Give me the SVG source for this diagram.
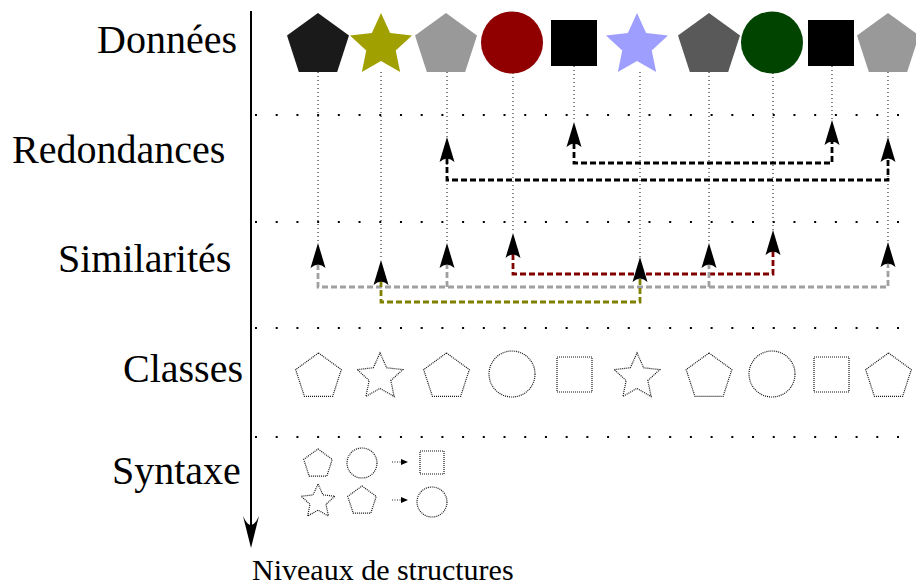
<svg xmlns="http://www.w3.org/2000/svg" xmlns:xlink="http://www.w3.org/1999/xlink" width="916" height="586" viewBox="0 0 916 586">
<style>
.lbl{font-family:"Liberation Serif","Times New Roman",serif;font-size:40px;fill:#000}
.sep{fill:none;stroke:#000;stroke-width:2;stroke-dasharray:2 18.71}
.vdot{fill:none;stroke:#222;stroke-width:1.1;stroke-dasharray:1 3}
.cls{fill:none;stroke:#111;stroke-width:1.2;stroke-dasharray:1 1}
.dash{fill:none;stroke-width:2.8;stroke-dasharray:6 3;marker-end:url(#ah)}
.both{marker-start:url(#ah)}
</style>
<defs>
<marker id="ah" viewBox="-6 -9 30 18" refX="0" refY="0" markerWidth="30" markerHeight="18" orient="auto-start-reverse" markerUnits="userSpaceOnUse">
<path d="M21,0 L-4,-7.5 Q3,0 -4,7.5 Z" fill="#000"/>
</marker>
<path id="pentL" d="M0,-32.6 L31,-10.07 L19.16,26.37 L-19.16,26.37 L-31,-10.07 Z"/>
<path id="starL" d="M0,-32.6 L9.11,-12.54 L31,-10.07 L14.74,4.79 L19.16,26.37 L0,15.5 L-19.16,26.37 L-14.74,4.79 L-31,-10.07 L-9.11,-12.54 Z"/>
<path id="pentM" d="M0,-24 L22.83,-7.42 L14.11,19.42 L-14.11,19.42 L-22.83,-7.42 Z"/>
<path id="starM" d="M0,-24 L6.7,-9.22 L22.83,-7.42 L10.84,3.52 L14.11,19.42 L0,11.4 L-14.11,19.42 L-10.84,3.52 L-22.83,-7.42 L-6.7,-9.22 Z"/>
<path id="pentS" d="M0,-15 L14.27,-4.64 L8.82,12.14 L-8.82,12.14 L-14.27,-4.64 Z"/>
<path id="starS" d="M0,-17.7 L4.94,-6.8 L16.83,-5.47 L7.99,2.6 L10.4,14.32 L0,8.4 L-10.4,14.32 L-7.99,2.6 L-16.83,-5.47 L-4.94,-6.8 Z"/>
</defs>
<rect width="916" height="586" fill="#fff"/>

<g id="labels">
<text class="lbl" x="97" y="53">Données</text>
<text class="lbl" x="12" y="163">Redondances</text>
<text class="lbl" x="58" y="272">Similarités</text>
<text class="lbl" x="123" y="382">Classes</text>
<text class="lbl" x="112" y="484">Syntaxe</text>
<text x="252" y="580" style="font-family:'Liberation Serif','Times New Roman',serif;font-size:30px;fill:#000">Niveaux de structures</text>
</g>

<g id="axis">
<line x1="251" y1="11" x2="251" y2="526" stroke="#000" stroke-width="2"/>
<path d="M251,548 L243,516 Q251,534 259,516 Z" fill="#000"/>
</g>

<g id="separators">
<line class="sep" x1="255" y1="115" x2="902" y2="115"/>
<line class="sep" x1="255" y1="222" x2="902" y2="222"/>
<line class="sep" x1="255" y1="328" x2="902" y2="328"/>
<line class="sep" x1="255" y1="437" x2="902" y2="437"/>
</g>

<g id="connectors">
<g id="dotted-links">
<line class="vdot" x1="318" y1="72" x2="318" y2="243"/>
<line class="vdot" x1="381" y1="72" x2="381" y2="260"/>
<line class="vdot" x1="447" y1="72" x2="447" y2="243"/>
<line class="vdot" x1="513" y1="73" x2="513" y2="233"/>
<line class="vdot" x1="574" y1="66" x2="574" y2="122"/>
<line class="vdot" x1="640" y1="72" x2="640" y2="257"/>
<line class="vdot" x1="709" y1="72" x2="709" y2="243"/>
<line class="vdot" x1="773" y1="73" x2="773" y2="230"/>
<line class="vdot" x1="832" y1="66" x2="832" y2="120"/>
<line class="vdot" x1="888" y1="72" x2="888" y2="242"/>
</g>
<g id="redondances">
<path class="dash both" stroke="#000" d="M574,143 V163 H832 V141"/>
<path class="dash both" stroke="#000" d="M447,158 V180 H888 V158"/>
</g>
<g id="similarites">
<path class="dash both" stroke="#800000" d="M513,254 V274 H773 V251"/>
<path class="dash both" stroke="#a0a0a0" d="M318,264 V287 H888 V263"/>
<path class="dash" stroke="#a0a0a0" d="M447,287 V264"/>
<path class="dash" stroke="#a0a0a0" d="M709,287 V264"/>
<path class="dash both" stroke="#808000" d="M381,281 V302 H640 V278"/>
</g>
<g id="syntax-arrows">
<line class="vdot" x1="392" y1="462" x2="402" y2="462" style="stroke-dasharray:1 1.5"/>
<path d="M401,459 L408,462 L401,465 Z" fill="#000"/>
<line class="vdot" x1="392" y1="500" x2="402" y2="500" style="stroke-dasharray:1 1.5"/>
<path d="M401,497 L408,500 L401,503 Z" fill="#000"/>
</g>
</g>

<g id="donnees">
<g id="d1"><use xlink:href="#pentL" x="318" y="45.6" fill="#1a1a1a"/></g>
<g id="d2"><use xlink:href="#starL" x="381" y="45.6" fill="#a0a000"/></g>
<g id="d3"><use xlink:href="#pentL" x="446" y="45.6" fill="#999999"/></g>
<g id="d4"><circle cx="512" cy="42.5" r="31" fill="#910000"/></g>
<g id="d5"><rect x="551" y="20" width="46" height="46" fill="#000"/></g>
<g id="d6"><use xlink:href="#starL" x="637" y="45.6" fill="#9e9eff"/></g>
<g id="d7"><use xlink:href="#pentL" x="709" y="45.6" fill="#595959"/></g>
<g id="d8"><circle cx="772" cy="42.5" r="31" fill="#004400"/></g>
<g id="d9"><rect x="808" y="20" width="46" height="46" fill="#000"/></g>
<g id="d10"><use xlink:href="#pentL" x="888" y="45.6" fill="#999999"/></g>
</g>

<g id="classes">
<g id="c1"><use class="cls" xlink:href="#pentM" x="318.5" y="377"/></g>
<g id="c2"><use class="cls" xlink:href="#starM" x="380" y="377"/></g>
<g id="c3"><use class="cls" xlink:href="#pentM" x="446.5" y="377"/></g>
<g id="c4"><circle class="cls" cx="512" cy="374" r="23"/></g>
<g id="c5"><rect class="cls" x="557" y="357" width="35" height="35"/></g>
<g id="c6"><use class="cls" xlink:href="#starM" x="637" y="377"/></g>
<g id="c7"><use class="cls" xlink:href="#pentM" x="709" y="377"/></g>
<g id="c8"><circle class="cls" cx="772" cy="374" r="23"/></g>
<g id="c9"><rect class="cls" x="814" y="357" width="35" height="35"/></g>
<g id="c10"><use class="cls" xlink:href="#pentM" x="888.5" y="377"/></g>
</g>

<g id="syntaxe">
<g id="s1"><use class="cls" xlink:href="#pentS" x="318" y="464"/></g>
<g id="s2"><circle class="cls" cx="362" cy="463" r="15"/></g>
<g id="s3"><rect class="cls" x="420" y="451" width="24" height="23"/></g>
<g id="s4"><use class="cls" xlink:href="#starS" x="318" y="501.7"/></g>
<g id="s5"><use class="cls" xlink:href="#pentS" x="362" y="501"/></g>
<g id="s6"><circle class="cls" cx="432" cy="502" r="15"/></g>
</g>
</svg>
